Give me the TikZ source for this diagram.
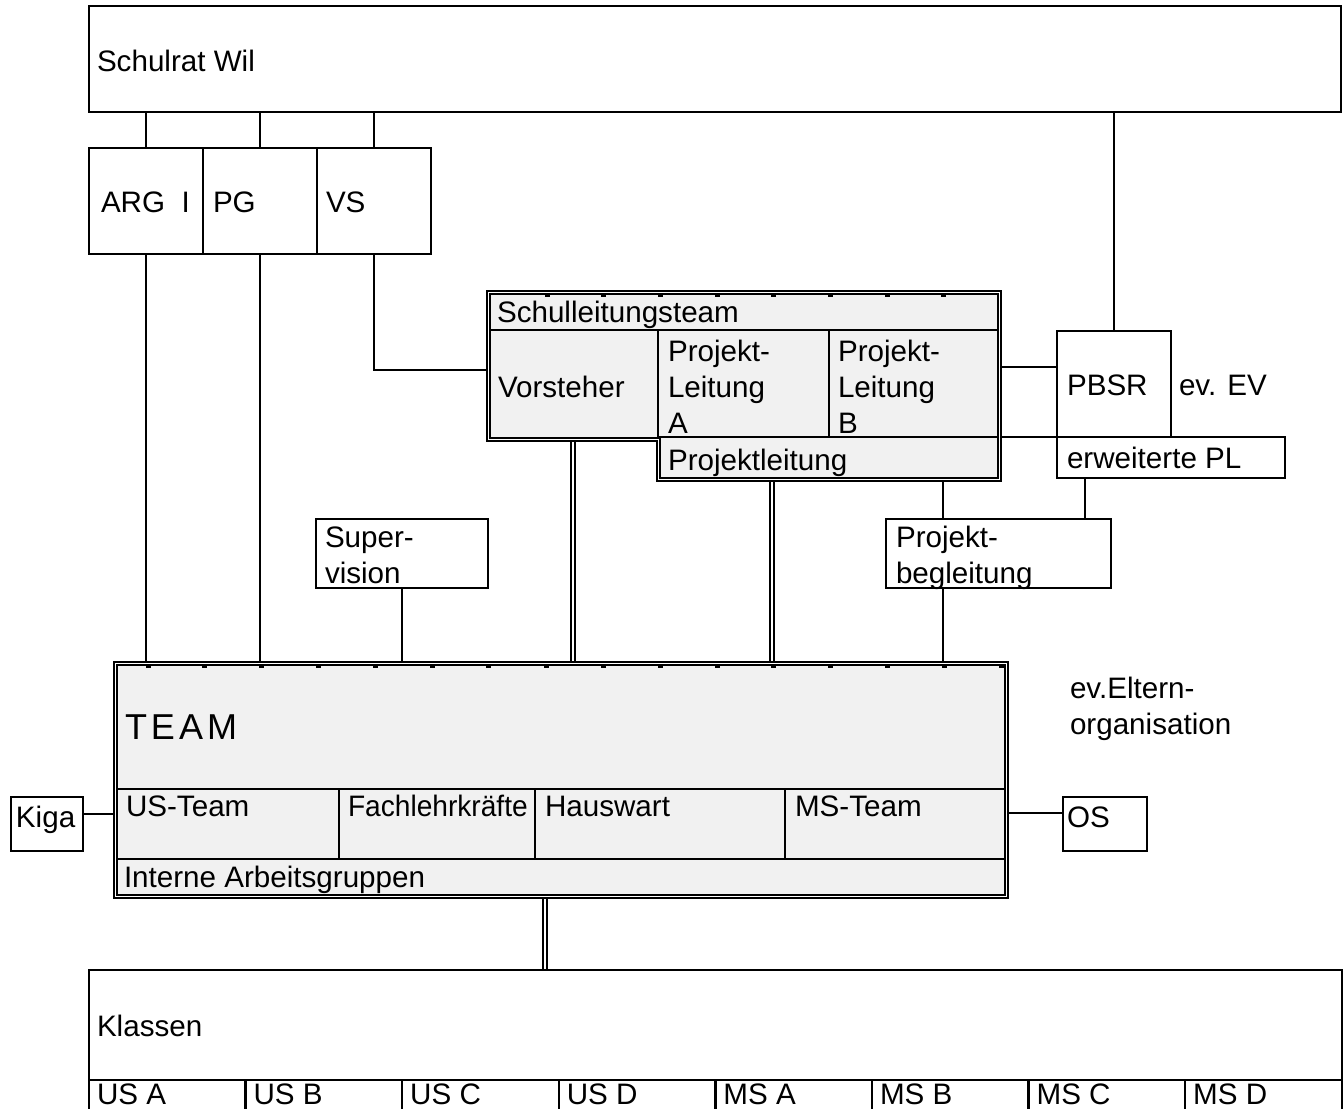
\documentclass[tikz,border=0pt]{standalone}
\usepackage{fontspec}
\setmainfont{Liberation Sans}
\usetikzlibrary{backgrounds}
\definecolor{cellgray}{HTML}{F1F1F1}
\begin{document}
\begin{tikzpicture}[x=1pt,y=-1pt,
  box/.style={draw, line width=2.3pt, fill=white, inner sep=0pt, outer sep=0pt, anchor=north west},
  cell/.style={inner sep=0pt, outer sep=0pt, anchor=north west},
  lbl/.style={anchor=base west, inner sep=0pt, outer sep=0pt, font=\fontsize{29.6pt}{36.5pt}\selectfont},
  conn/.style={line width=2.3pt},
  dconn/.style={double=white, double distance=1.8pt, line width=1.8pt},
  dborder/.style={draw, double=white, double distance=1.6pt, line width=1.9pt, fill=cellgray},
  divider/.style={line width=2.3pt}]
\useasboundingbox (0,0) rectangle (1343,1108);

% ---------- boxes ----------
\node[box, minimum width=1252pt, minimum height=106pt] (schulrat) at (89,6) {};
\node[box, minimum width=114pt, minimum height=106pt] (arg) at (89,148) {};
\node[box, minimum width=114pt, minimum height=106pt] (pg) at (203,148) {};
\node[box, minimum width=114pt, minimum height=106pt] (vs) at (317,148) {};
\node[box, minimum width=172pt, minimum height=69pt] (sup) at (316,519) {};
\node[box, minimum width=225pt, minimum height=69pt] (pb) at (886,519) {};
\node[box, minimum width=114pt, minimum height=106pt] (pbsr) at (1057,331) {};
\node[box, minimum width=228pt, minimum height=41pt] (epl) at (1057,437) {};
\node[box, minimum width=72pt, minimum height=54pt] (kiga) at (11,797) {};
\node[box, minimum width=84pt, minimum height=54pt] (os) at (1063,797) {};
\node[box, minimum width=1253pt, minimum height=140pt] (klassen) at (89,970) {};
\foreach \i/\n in {0/usa,1/usb,2/usc,3/usd,4/msa,5/msb,6/msc,7/msd}
  \node[box, minimum width=156.6pt, minimum height=40pt] (\n) at (89+156.6*\i,1080) {};

% Schulleitungsteam (stepped double border)
\path[dborder] (488.5,292.5) -- (999.5,292.5) -- (999.5,479.5) -- (658.5,479.5)
  -- (658.5,439.5) -- (488.5,439.5) -- cycle;
\node[cell, minimum width=506pt, minimum height=35pt] (slhead) at (491,295) {};
\node[cell, minimum width=167pt, minimum height=107pt] (vorst) at (491,330) {};
\node[cell, minimum width=171pt, minimum height=107pt] (proja) at (658,330) {};
\node[cell, minimum width=168pt, minimum height=107pt] (projb) at (829,330) {};
\node[cell, minimum width=336pt, minimum height=40pt] (pl) at (661,437) {};
\draw[divider] (slhead.south west) -- (slhead.south east);
\draw[divider] (proja.north west) -- (proja.south west);
\draw[divider] (projb.north west) -- (projb.south west);
\draw[divider] (proja.south west) -- (projb.south east);
\foreach \x in {547,603,660,717,773,830,887,943}
  \fill (\x-2.5,295) rectangle ++(5,2);

% TEAM
\node[dborder, inner sep=0pt, outer sep=0pt, anchor=north west,
      minimum width=891pt, minimum height=233pt] (team) at (115.5,663.5) {};
\node[cell, minimum width=886pt, minimum height=123pt] (teamtop) at (118,666) {};
\node[cell, minimum width=221pt, minimum height=70pt] (ust) at (118,789) {};
\node[cell, minimum width=196pt, minimum height=70pt] (fach) at (339,789) {};
\node[cell, minimum width=250pt, minimum height=70pt] (haus) at (535,789) {};
\node[cell, minimum width=219pt, minimum height=70pt] (mst) at (785,789) {};
\node[cell, minimum width=886pt, minimum height=35pt] (iag) at (118,859) {};
\draw[divider] (ust.north west) -- (mst.north east);
\draw[divider] (ust.south west) -- (mst.south east);
\draw[divider] (fach.north west) -- (fach.south west);
\draw[divider] (haus.north west) -- (haus.south west);
\draw[divider] (mst.north west) -- (mst.south west);
\foreach \x in {148,204,261,318,375,432,488,546,603,660,717,773,830,887,944,1001}
  \fill (\x-2.5,666) rectangle ++(5,2);

% ---------- connectors (behind the boxes) ----------
\begin{pgfonlayer}{background}
\fill[white] (0,0) rectangle (1343,1108);
\draw[conn] (arg.north) -- (arg.north |- schulrat.south);
\draw[conn] (pg.north) -- (pg.north |- schulrat.south);
\draw[conn] (vs.north) -- (vs.north |- schulrat.south);
\draw[conn] (pbsr.north) -- (pbsr.north |- schulrat.south);
\draw[conn] (arg.south) -- (arg.south |- team.north);
\draw[conn] (pg.south) -- (pg.south |- team.north);
\draw[conn] (vs.south) |- (vorst.west |- 0,370);
\draw[conn] (sup.south) -- (sup.south |- team.north);
\draw[dconn] (vorst.south -| 573,0) -- (team.north -| 573,0);
\draw[dconn] (pl.south -| 772,0) -- (team.north -| 772,0);
\draw[conn] (pl.south -| 943,0) -- (pb.north -| 943,0);
\draw[conn] (pb.south -| 943,0) -- (team.north -| 943,0);
\draw[conn] (projb.east |- 0,367) -- (pbsr.west |- 0,367);
\draw[conn] (projb.south east) -- (epl.north west);
\draw[conn] (epl.south -| 1085,0) -- (pb.north -| 1085,0);
\draw[conn] (kiga.east |- 0,814) -- (ust.west |- 0,814);
\draw[conn] (mst.east |- 0,813) -- (os.west |- 0,813);
\draw[dconn] (iag.south -| 545,0) -- (klassen.north -| 545,0);
\end{pgfonlayer}

% ---------- texts ----------
\node[lbl] (tschulrat) at (97,71) {Schulrat Wil};
\node[lbl] (targ) at (101,212) {ARG~~I};
\node[lbl] (tpg) at (213,212) {PG};
\node[lbl] (tvs) at (326,212) {VS};
\node[lbl] (tslt) at (497,322) {Schulleitungsteam};
\node[lbl] (tvorst) at (498,397) {Vorsteher};
\node[lbl] (tpa1) at (668,361) {Projekt-};
\node[lbl] (tpa2) at (668,397) {Leitung};
\node[lbl] (tpa3) at (668,433) {A};
\node[lbl] (tpb1) at (838,361) {Projekt-};
\node[lbl] (tpb2) at (838,397) {Leitung};
\node[lbl] (tpb3) at (838,433) {B};
\node[lbl] (tpl) at (668,470) {Projektleitung};
\node[lbl] (tpbsr) at (1067,395) {PBSR};
\node[lbl] (tev) at (1179,395) {ev. EV};
\node[lbl] (tepl) at (1067,468) {erweiterte PL};
\node[lbl] (tsup1) at (325,547) {Super-};
\node[lbl] (tsup2) at (325,583) {vision};
\node[lbl] (tpbg1) at (896,547) {Projekt-};
\node[lbl] (tpbg2) at (896,583) {begleitung};
\node[lbl] (telt1) at (1070,698) {ev.Eltern-};
\node[lbl] (telt2) at (1070,734) {organisation};
\node[lbl, font=\fontsize{36pt}{40pt}\selectfont] (tteam) at (125,739) {T\kern4pt E\kern4pt A\kern4pt M};
\node[lbl] (tust) at (126,816) {US-Team};
\node[lbl, xscale=0.95, transform shape] (tfach) at (348,816) {Fachlehrkräfte};
\node[lbl] (thaus) at (545,816) {Hauswart};
\node[lbl] (tmst) at (795,816) {MS-Team};
\node[lbl] (tiag) at (124,887) {Interne Arbeitsgruppen};
\node[lbl] (tkiga) at (16,827) {Kiga};
\node[lbl] (tos) at (1067,827) {OS};
\node[lbl] (tklassen) at (97,1036) {Klassen};
\foreach \i/\t in {0/US A,1/US B,2/US C,3/US D,4/MS A,5/MS B,6/MS C,7/MS D}
  \node[lbl] (tcl\i) at (97+156.6*\i,1104) {\t};
\end{tikzpicture}
\end{document}
